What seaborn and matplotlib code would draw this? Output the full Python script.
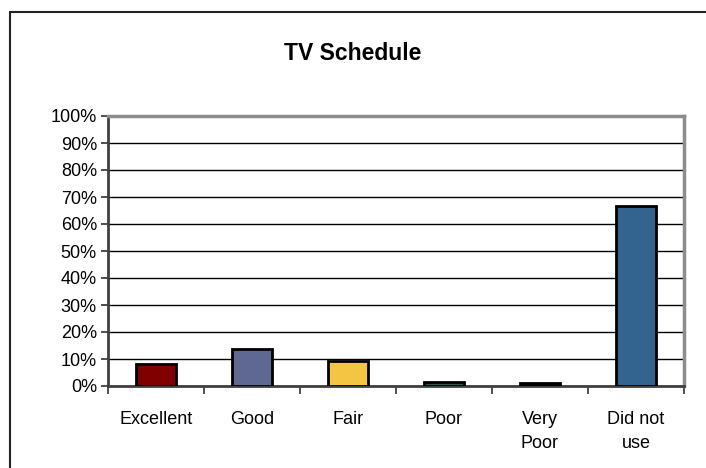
import matplotlib
matplotlib.use("Agg")
import matplotlib.pyplot as plt
from matplotlib.lines import Line2D
from matplotlib.ticker import FuncFormatter, FixedLocator
import pandas as pd
import seaborn as sns

# Survey ratings for the TV schedule (share of respondents, %)
categories = ["Excellent", "Good", "Fair", "Poor", "Very\nPoor", "Did not\nuse"]
shares = [8.1, 13.8, 9.3, 1.4, 1.1, 66.7]
bar_colors = ["#800000", "#5F6890", "#F3C542", "#2B5A50", "#1A1A1A", "#336490"]
y_ticks = list(range(0, 101, 10))

sns.set_theme(style="white")
plt.rcParams["font.family"] = ["Liberation Sans", "DejaVu Sans"]

W, H = 706, 468
fig = plt.figure(figsize=(W / 100, H / 100), dpi=100)
ax = fig.add_axes([108 / W, (H - 386) / H, 576 / W, 270 / H])

df = pd.DataFrame({"category": categories, "share": shares})
sns.barplot(data=df, x="category", y="share", hue="category",
            palette=bar_colors, legend=False, width=0.41,
            edgecolor="black", linewidth=2, saturation=1, ax=ax, zorder=3)

ax.set_ylim(0, 100)
ax.set_xlim(-0.5, len(categories) - 0.5)
ax.yaxis.set_major_locator(FixedLocator(y_ticks))
ax.yaxis.set_major_formatter(FuncFormatter(lambda v, _: f"{int(v)}%"))
ax.grid(axis="y", color="black", linewidth=1, zorder=1)
ax.set_axisbelow(True)
ax.set_xlabel("")
ax.set_ylabel("")

# Category separators as ticks below the axis
ax.xaxis.set_minor_locator(FixedLocator([i - 0.5 for i in range(len(categories) + 1)]))
ax.tick_params(axis="x", which="major", length=0, pad=18, labelsize=13,
               colors="black")
ax.tick_params(axis="x", which="minor", bottom=True, length=6, width=1.3,
               color="#404040")
ax.tick_params(axis="y", left=True, length=5, width=1.3, color="#404040",
               labelsize=13, labelcolor="black", pad=3)
for lbl in ax.get_xticklabels():
    lbl.set_horizontalalignment("center")
    lbl.set_multialignment("center")
    lbl.set_verticalalignment("top")
    lbl.set_linespacing(1.55)

for side in ("left", "bottom"):
    ax.spines[side].set_color("#404040")
    ax.spines[side].set_linewidth(2)
for side in ("top", "right"):
    ax.spines[side].set_visible(True)
    ax.spines[side].set_color("#8C8C8C")
    ax.spines[side].set_linewidth(2.5)

fig.text(0.5, 1 - 53 / H, "TV Schedule", ha="center", va="center",
         fontsize=16.5, fontweight="bold", color="black")

# Chart-area frame (top and left edges)
x0, y0 = 9.5 / W, 1 - 11.5 / H
fig.add_artist(Line2D([x0, 1.01], [y0, y0], transform=fig.transFigure,
                      color="#222222", linewidth=1.5, clip_on=False))
fig.add_artist(Line2D([x0, x0], [y0, -0.01], transform=fig.transFigure,
                      color="#222222", linewidth=1.5, clip_on=False))

fig.savefig("out.png", dpi=100, facecolor="white")
